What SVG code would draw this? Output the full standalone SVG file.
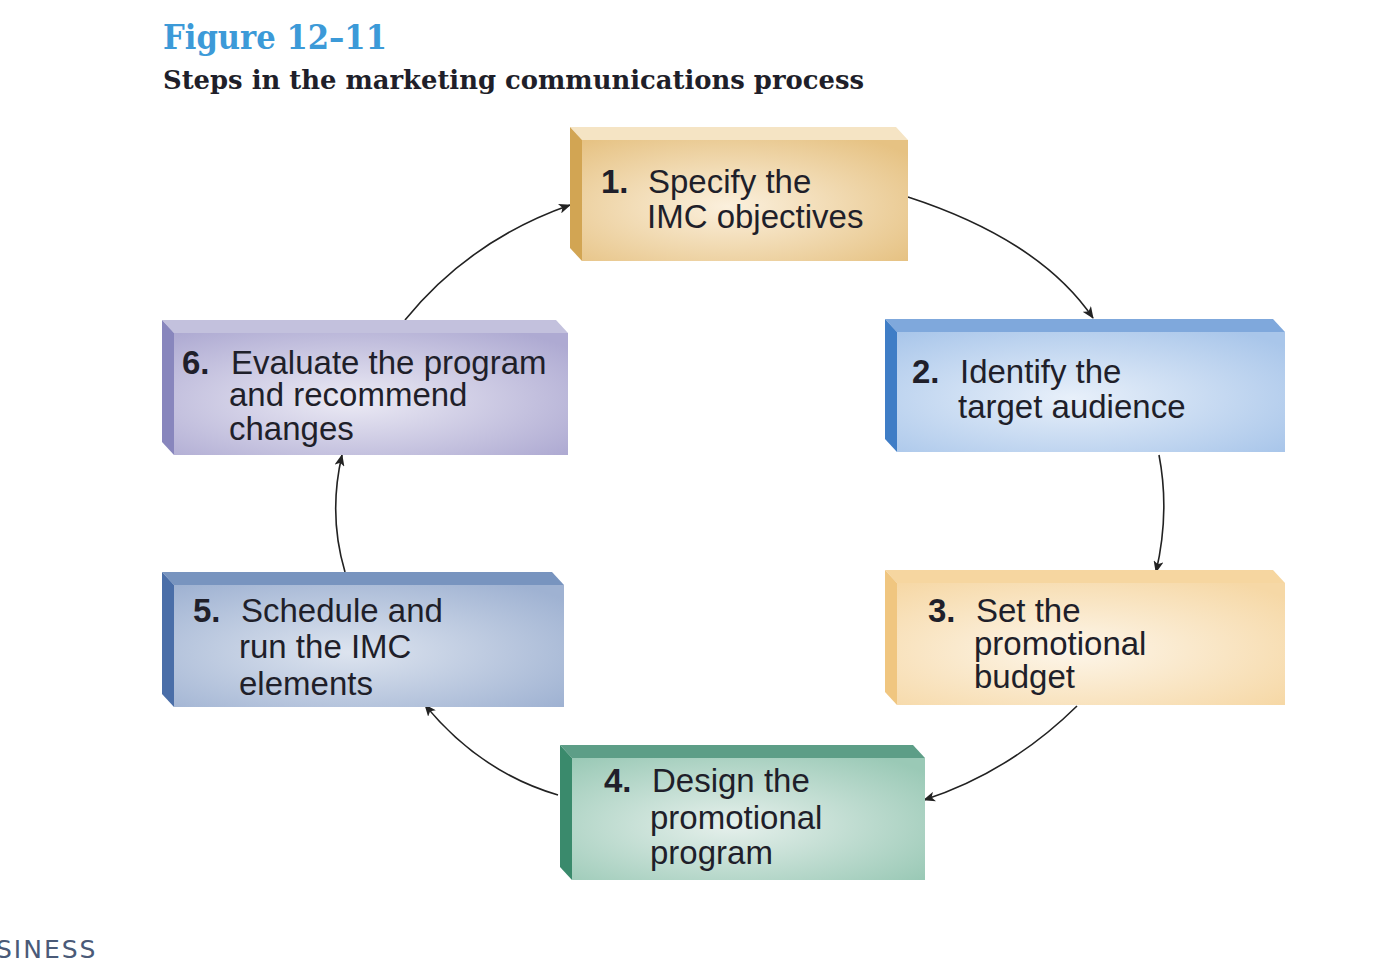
<svg xmlns="http://www.w3.org/2000/svg" width="1386" height="978" viewBox="0 0 1386 978">
<style>
.t{font-family:"Liberation Sans",Arial,sans-serif;font-size:33px;fill:#1f1f2a}
.n{font-weight:bold}
.c{fill:none;stroke:#222;stroke-width:1.6;marker-end:url(#ah)}
</style>
<defs>
<marker id="ah" viewBox="0 0 12 10" refX="11" refY="5" markerWidth="12" markerHeight="10" markerUnits="userSpaceOnUse" orient="auto"><path d="M0,0 L12,5 L0,10 L3,5 Z" fill="#222"/></marker>
<radialGradient id="g1" cx="0.45" cy="0.55" r="0.7"><stop offset="0" stop-color="#fbf0dd"/><stop offset="1" stop-color="#e6c283"/></radialGradient>
<radialGradient id="g2" cx="0.45" cy="0.55" r="0.7"><stop offset="0" stop-color="#e8f0fa"/><stop offset="1" stop-color="#a9c6ea"/></radialGradient>
<radialGradient id="g3" cx="0.45" cy="0.55" r="0.7"><stop offset="0" stop-color="#fdf6ea"/><stop offset="1" stop-color="#f6d8a6"/></radialGradient>
<radialGradient id="g4" cx="0.45" cy="0.55" r="0.7"><stop offset="0" stop-color="#e6f0ec"/><stop offset="1" stop-color="#9ac9b6"/></radialGradient>
<radialGradient id="g5" cx="0.45" cy="0.55" r="0.7"><stop offset="0" stop-color="#dde4ef"/><stop offset="1" stop-color="#9fb2d2"/></radialGradient>
<radialGradient id="g6" cx="0.45" cy="0.55" r="0.7"><stop offset="0" stop-color="#ecebf5"/><stop offset="1" stop-color="#aeaad2"/></radialGradient>
</defs>
<rect width="1386" height="978" fill="#fff"/>
<text x="163" y="49" textLength="224" lengthAdjust="spacingAndGlyphs" style="font-family:'DejaVu Serif',serif;font-size:34px;font-weight:bold;fill:#3c9ad8">Figure 12–11</text>
<text x="163" y="89" textLength="701" lengthAdjust="spacingAndGlyphs" style="font-family:'DejaVu Serif',serif;font-size:26px;font-weight:bold;fill:#1f1f2a">Steps in the marketing communications process</text>

<g id="connectors">
<path class="c" d="M908,197 Q1040,240 1093,318"/>
<path class="c" d="M1159,455 Q1170,512 1156,572"/>
<path class="c" d="M1077,706 Q1010,772 924,800"/>
<path class="c" d="M558,795 Q480,772 425,705"/>
<path class="c" d="M345,572 Q328,515 342,455"/>
<path class="c" d="M405,320 Q470,240 570,205"/>
</g>

<g id="node1">
<polygon points="570,127 896,127 908,140 582,140" fill="#f5e4c4"/>
<polygon points="570,127 582,140 582,261 570,248" fill="#d2a553"/>
<rect x="582" y="140" width="326" height="121" fill="url(#g1)"/>
<text class="t n" x="601" y="193">1.</text><text class="t" x="648" y="193">Specify the</text>
<text class="t" x="647" y="228">IMC objectives</text>
</g>
<g id="node2">
<polygon points="885,319 1273,319 1285,332 897,332" fill="#7fa8dc"/>
<polygon points="885,319 897,332 897,452 885,439" fill="#3f7dc6"/>
<rect x="897" y="332" width="388" height="120" fill="url(#g2)"/>
<text class="t n" x="912" y="383">2.</text><text class="t" x="960" y="383">Identify the</text>
<text class="t" x="958" y="418">target audience</text>
</g>
<g id="node3">
<polygon points="885,570 1273,570 1285,583 897,583" fill="#f6d6a0"/>
<polygon points="885,570 897,583 897,705 885,692" fill="#f0c680"/>
<rect x="897" y="583" width="388" height="122" fill="url(#g3)"/>
<text class="t n" x="928" y="622">3.</text><text class="t" x="976" y="622">Set the</text>
<text class="t" x="974" y="655">promotional</text>
<text class="t" x="974" y="688">budget</text>
</g>
<g id="node4">
<polygon points="560,745 913,745 925,758 572,758" fill="#5d9e87"/>
<polygon points="560,745 572,758 572,880 560,867" fill="#3a8a6c"/>
<rect x="572" y="758" width="353" height="122" fill="url(#g4)"/>
<text class="t n" x="604" y="792">4.</text><text class="t" x="652" y="792">Design the</text>
<text class="t" x="650" y="829">promotional</text>
<text class="t" x="650" y="864">program</text>
</g>
<g id="node5">
<polygon points="162,572 552,572 564,585 174,585" fill="#7894bf"/>
<polygon points="162,572 174,585 174,707 162,694" fill="#4a6ea8"/>
<rect x="174" y="585" width="390" height="122" fill="url(#g5)"/>
<text class="t n" x="193" y="622">5.</text><text class="t" x="241" y="622">Schedule and</text>
<text class="t" x="239" y="658">run the IMC</text>
<text class="t" x="239" y="695">elements</text>
</g>
<g id="node6">
<polygon points="162,320 556,320 568,333 174,333" fill="#c3c1dd"/>
<polygon points="162,320 174,333 174,455 162,442" fill="#8886bd"/>
<rect x="174" y="333" width="394" height="122" fill="url(#g6)"/>
<text class="t n" x="182" y="374">6.</text><text class="t" x="231" y="374">Evaluate the program</text>
<text class="t" x="229" y="406">and recommend</text>
<text class="t" x="229" y="440">changes</text>
</g>
<text x="-4" y="958" style="font-family:'DejaVu Sans',sans-serif;font-size:25px;fill:#4a5a78;letter-spacing:2px">SINESS</text>
</svg>
